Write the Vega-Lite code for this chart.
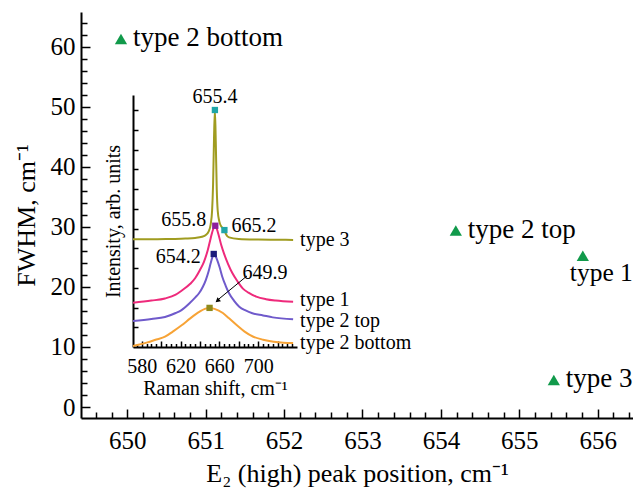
{
  "$schema": "https://vega.github.io/schema/vega-lite/v6.json",
  "width": 552,
  "height": 406,
  "autosize": "none",
  "padding": {"left": 81, "top": 12, "right": 0, "bottom": 72},
  "config": {
    "view": {"stroke": null},
    "font": "Liberation Serif",
    "text": {"font": "Liberation Serif"},
    "axis": {"grid": false, "domainColor": "black", "tickColor": "black", "labelColor": "black", "titleColor": "black", "labelFont": "Liberation Serif", "titleFont": "Liberation Serif", "titleFontWeight": "normal", "domainWidth": 2, "tickWidth": 1.5, "labelFlush": false, "labelOverlap": false}
  },
  "datasets": {
    "points": [
      {"pos": 649.92, "fwhm": 61.3, "label": "type 2 bottom"},
      {"pos": 654.19, "fwhm": 29.4, "label": "type 2 top"},
      {"pos": 655.81, "fwhm": 25.2, "label": "type 1"},
      {"pos": 655.44, "fwhm": 4.5, "label": "type 3"}
    ],
    "spectra": [
      {"s": "type 3", "x": 571, "i": 5.45}, {"s": "type 3", "x": 590, "i": 5.45}, {"s": "type 3", "x": 610, "i": 5.47}, {"s": "type 3", "x": 625, "i": 5.49}, {"s": "type 3", "x": 635, "i": 5.52}, {"s": "type 3", "x": 642, "i": 5.58}, {"s": "type 3", "x": 646, "i": 5.67}, {"s": "type 3", "x": 649, "i": 5.85}, {"s": "type 3", "x": 651, "i": 6.2}, {"s": "type 3", "x": 652.5, "i": 6.9}, {"s": "type 3", "x": 653.5, "i": 8.2}, {"s": "type 3", "x": 654.5, "i": 10.6}, {"s": "type 3", "x": 655.4, "i": 12.0}, {"s": "type 3", "x": 656.3, "i": 10.4}, {"s": "type 3", "x": 657.3, "i": 8.0}, {"s": "type 3", "x": 658.3, "i": 6.9}, {"s": "type 3", "x": 660, "i": 6.35}, {"s": "type 3", "x": 662, "i": 6.1}, {"s": "type 3", "x": 664, "i": 6.0}, {"s": "type 3", "x": 665.2, "i": 5.92}, {"s": "type 3", "x": 667, "i": 5.7}, {"s": "type 3", "x": 670, "i": 5.55}, {"s": "type 3", "x": 680, "i": 5.47}, {"s": "type 3", "x": 700, "i": 5.44}, {"s": "type 3", "x": 720, "i": 5.43}, {"s": "type 3", "x": 736, "i": 5.42},
      {"s": "type 1", "x": 571, "i": 2.24}, {"s": "type 1", "x": 590, "i": 2.35}, {"s": "type 1", "x": 604, "i": 2.46}, {"s": "type 1", "x": 615, "i": 2.65}, {"s": "type 1", "x": 621, "i": 2.85}, {"s": "type 1", "x": 630, "i": 3.2}, {"s": "type 1", "x": 635, "i": 3.48}, {"s": "type 1", "x": 640, "i": 3.9}, {"s": "type 1", "x": 644, "i": 4.3}, {"s": "type 1", "x": 648, "i": 4.9}, {"s": "type 1", "x": 651, "i": 5.5}, {"s": "type 1", "x": 653.5, "i": 5.95}, {"s": "type 1", "x": 655.8, "i": 6.14}, {"s": "type 1", "x": 658.5, "i": 5.8}, {"s": "type 1", "x": 662, "i": 5.15}, {"s": "type 1", "x": 665, "i": 4.7}, {"s": "type 1", "x": 669, "i": 4.2}, {"s": "type 1", "x": 673.5, "i": 3.73}, {"s": "type 1", "x": 679, "i": 3.3}, {"s": "type 1", "x": 684, "i": 2.97}, {"s": "type 1", "x": 690, "i": 2.75}, {"s": "type 1", "x": 698, "i": 2.55}, {"s": "type 1", "x": 708, "i": 2.42}, {"s": "type 1", "x": 718, "i": 2.35}, {"s": "type 1", "x": 736, "i": 2.29},
      {"s": "type 2 top", "x": 571, "i": 1.32}, {"s": "type 2 top", "x": 590, "i": 1.42}, {"s": "type 2 top", "x": 604, "i": 1.52}, {"s": "type 2 top", "x": 615, "i": 1.72}, {"s": "type 2 top", "x": 621, "i": 1.87}, {"s": "type 2 top", "x": 630, "i": 2.25}, {"s": "type 2 top", "x": 635, "i": 2.5}, {"s": "type 2 top", "x": 639, "i": 2.72}, {"s": "type 2 top", "x": 643, "i": 3.05}, {"s": "type 2 top", "x": 646, "i": 3.39}, {"s": "type 2 top", "x": 649, "i": 3.85}, {"s": "type 2 top", "x": 651, "i": 4.24}, {"s": "type 2 top", "x": 652.8, "i": 4.55}, {"s": "type 2 top", "x": 654.2, "i": 4.71}, {"s": "type 2 top", "x": 655.6, "i": 4.65}, {"s": "type 2 top", "x": 657.5, "i": 4.44}, {"s": "type 2 top", "x": 660.5, "i": 4.0}, {"s": "type 2 top", "x": 663, "i": 3.56}, {"s": "type 2 top", "x": 666.5, "i": 3.1}, {"s": "type 2 top", "x": 670, "i": 2.72}, {"s": "type 2 top", "x": 675, "i": 2.35}, {"s": "type 2 top", "x": 680.5, "i": 2.04}, {"s": "type 2 top", "x": 687, "i": 1.85}, {"s": "type 2 top", "x": 694, "i": 1.71}, {"s": "type 2 top", "x": 705, "i": 1.6}, {"s": "type 2 top", "x": 715, "i": 1.5}, {"s": "type 2 top", "x": 736, "i": 1.4},
      {"s": "type 2 bottom", "x": 571, "i": 0.05}, {"s": "type 2 bottom", "x": 585, "i": 0.22}, {"s": "type 2 bottom", "x": 595, "i": 0.38}, {"s": "type 2 bottom", "x": 604, "i": 0.52}, {"s": "type 2 bottom", "x": 612, "i": 0.78}, {"s": "type 2 bottom", "x": 621.5, "i": 1.11}, {"s": "type 2 bottom", "x": 630, "i": 1.45}, {"s": "type 2 bottom", "x": 639.7, "i": 1.79}, {"s": "type 2 bottom", "x": 645, "i": 1.93}, {"s": "type 2 bottom", "x": 649.9, "i": 1.98}, {"s": "type 2 bottom", "x": 655, "i": 1.93}, {"s": "type 2 bottom", "x": 663.6, "i": 1.72}, {"s": "type 2 bottom", "x": 670, "i": 1.45}, {"s": "type 2 bottom", "x": 677.8, "i": 1.11}, {"s": "type 2 bottom", "x": 686, "i": 0.78}, {"s": "type 2 bottom", "x": 695, "i": 0.52}, {"s": "type 2 bottom", "x": 705, "i": 0.37}, {"s": "type 2 bottom", "x": 716, "i": 0.27}, {"s": "type 2 bottom", "x": 726, "i": 0.22}, {"s": "type 2 bottom", "x": 736, "i": 0.2}
    ],
    "peaks": [
      {"label": "655.4", "x": 655.4, "i": 12.0},
      {"label": "665.2", "x": 665.2, "i": 5.92},
      {"label": "655.8", "x": 655.8, "i": 6.14},
      {"label": "654.2", "x": 654.2, "i": 4.71},
      {"label": "649.9", "x": 649.9, "i": 1.98}
    ],
    "arrow": [
      {"x": 688.5, "i": 3.6, "x2": 657.5, "i2": 2.35}
    ],
    "arrowhead": [
      {"x": 658.0, "i": 2.34}
    ]
  },
  "layer": [
    {
      "layer": [
        {
          "data": {"name": "points"},
          "mark": {"type": "point", "shape": "triangle-up", "filled": true, "size": 150, "color": "#119a4b", "opacity": 1},
          "encoding": {
            "x": {"field": "pos", "type": "quantitative", "scale": {"domain": [649.41, 656.45], "nice": false, "zero": false},
              "axis": {"orient": "bottom", "values": [650, 651, 652, 653, 654, 655, 656], "tickSize": -9, "labelPadding": 19, "labelFontSize": 25, "title": "E₂ (high) peak position, cm⁻¹", "titleFontSize": 26, "titlePadding": 7}},
            "y": {"field": "fwhm", "type": "quantitative", "scale": {"domain": [-1.83, 65.8], "nice": false, "zero": false},
              "axis": {"orient": "left", "values": [0, 10, 20, 30, 40, 50, 60], "tickSize": -9, "labelPadding": 15, "labelFontSize": 25, "title": "FWHM, cm⁻¹", "titleFontSize": 26, "titlePadding": 11}}
          }
        },
        {
          "data": {"name": "points"},
          "mark": {"type": "point", "opacity": 0},
          "encoding": {
            "x": {"field": "pos", "type": "quantitative", "axis": {"orient": "bottom", "values": [649.6, 649.8, 650.2, 650.4, 650.6, 650.8, 651.2, 651.4, 651.6, 651.8, 652.2, 652.4, 652.6, 652.8, 653.2, 653.4, 653.6, 653.8, 654.2, 654.4, 654.6, 654.8, 655.2, 655.4, 655.6, 655.8, 656.2, 656.4], "tickSize": -6, "labels": false, "domain": false, "title": null}},
            "y": {"field": "fwhm", "type": "quantitative", "axis": {"orient": "left", "values": [2, 4, 6, 8, 12, 14, 16, 18, 22, 24, 26, 28, 32, 34, 36, 38, 42, 44, 46, 48, 52, 54, 56, 58, 62, 64], "tickSize": -6, "labels": false, "domain": false, "title": null}}
          }
        },
        {
          "data": {"name": "points"},
          "transform": [{"filter": "datum.label != 'type 1'"}],
          "mark": {"type": "text", "font": "Liberation Serif", "align": "left", "baseline": "middle", "dx": 12, "dy": -1, "fontSize": 27, "color": "black"},
          "encoding": {
            "x": {"field": "pos", "type": "quantitative", "axis": null},
            "y": {"field": "fwhm", "type": "quantitative", "axis": null},
            "text": {"field": "label"}
          }
        },
        {
          "data": {"name": "points"},
          "transform": [{"filter": "datum.label == 'type 1'"}],
          "mark": {"type": "text", "font": "Liberation Serif", "align": "left", "baseline": "middle", "dx": -13, "dy": 17, "fontSize": 25.5, "color": "black"},
          "encoding": {
            "x": {"field": "pos", "type": "quantitative", "axis": null},
            "y": {"field": "fwhm", "type": "quantitative", "axis": null},
            "text": {"field": "label"}
          }
        }
      ],
      "resolve": {"axis": {"x": "independent", "y": "independent"}}
    },
    {
      "layer": [
        {
          "data": {"name": "spectra"},
          "mark": {"type": "line", "strokeWidth": 2, "interpolate": "monotone"},
          "encoding": {
            "x": {"field": "x", "type": "quantitative", "scale": {"domain": [571, 740], "range": [52, 216], "nice": false, "zero": false},
              "axis": {"orient": "bottom", "offset": -71, "values": [580, 600, 620, 640, 660, 680, 700, 720], "labelExpr": "datum.value % 40 == 20 ? datum.label : ''", "tickSize": -6, "labelPadding": 15, "labelFontSize": 20, "title": "Raman shift, cm⁻¹", "titleFontSize": 20, "titlePadding": 2}},
            "y": {"field": "i", "type": "quantitative", "scale": {"domain": [0, 12.76], "range": [335, 83], "nice": false, "zero": false},
              "axis": {"orient": "left", "offset": -52, "values": [1, 2, 3, 4, 5, 6, 7, 8, 9, 10, 11, 12], "tickSize": -5, "labels": false, "title": "Intensity, arb. units", "titleFontSize": 20, "titlePadding": 9}},
            "color": {"field": "s", "type": "nominal", "legend": null, "scale": {"domain": ["type 3", "type 1", "type 2 top", "type 2 bottom"], "range": ["#a09c20", "#ee2a7b", "#6f5acb", "#f7a336"]}},
            "detail": {"field": "s"}
          }
        },
        {
          "data": {"name": "spectra"},
          "transform": [{"filter": "datum.x == 571"}],
          "mark": {"type": "point", "opacity": 0},
          "encoding": {
            "x": {"field": "x", "type": "quantitative", "axis": {"orient": "bottom", "offset": -71, "values": [575, 585, 590, 595, 605, 610, 615, 625, 630, 635, 645, 650, 655, 665, 670, 675, 685, 690, 695, 705, 710, 715, 725, 730, 735], "tickSize": -3.5, "labels": false, "domain": false, "title": null}},
            "y": {"field": "i", "type": "quantitative", "axis": null}
          }
        },
        {
          "data": {"name": "spectra"},
          "transform": [{"filter": "datum.x == 736 && (datum.s == 'type 3' || datum.s == 'type 2 bottom')"}],
          "mark": {"type": "text", "font": "Liberation Serif", "align": "left", "baseline": "middle", "dx": 7, "fontSize": 20, "color": "black"},
          "encoding": {
            "x": {"field": "x", "type": "quantitative", "axis": null},
            "y": {"field": "i", "type": "quantitative", "axis": null},
            "text": {"field": "s"}
          }
        },
        {
          "data": {"name": "spectra"},
          "transform": [{"filter": "datum.x == 736 && datum.s == 'type 1'"}],
          "mark": {"type": "text", "font": "Liberation Serif", "align": "left", "baseline": "middle", "dx": 7, "dy": -1.5, "fontSize": 20, "color": "black"},
          "encoding": {
            "x": {"field": "x", "type": "quantitative", "axis": null},
            "y": {"field": "i", "type": "quantitative", "axis": null},
            "text": {"field": "s"}
          }
        },
        {
          "data": {"name": "spectra"},
          "transform": [{"filter": "datum.x == 736 && datum.s == 'type 2 top'"}],
          "mark": {"type": "text", "font": "Liberation Serif", "align": "left", "baseline": "middle", "dx": 7, "dy": 1.5, "fontSize": 20, "color": "black"},
          "encoding": {
            "x": {"field": "x", "type": "quantitative", "axis": null},
            "y": {"field": "i", "type": "quantitative", "axis": null},
            "text": {"field": "s"}
          }
        },
        {
          "data": {"name": "arrow"},
          "mark": {"type": "rule", "color": "black", "strokeWidth": 1},
          "encoding": {
            "x": {"field": "x", "type": "quantitative", "axis": null},
            "y": {"field": "i", "type": "quantitative", "axis": null},
            "x2": {"field": "x2"},
            "y2": {"field": "i2"}
          }
        },
        {
          "data": {"name": "arrowhead"},
          "mark": {"type": "point", "shape": "triangle-up", "filled": true, "size": 30, "angle": 230, "color": "black", "opacity": 1},
          "encoding": {
            "x": {"field": "x", "type": "quantitative", "axis": null},
            "y": {"field": "i", "type": "quantitative", "axis": null}
          }
        },
        {
          "data": {"name": "peaks"},
          "mark": {"type": "square", "size": 40, "filled": true, "opacity": 1},
          "encoding": {
            "x": {"field": "x", "type": "quantitative", "axis": null},
            "y": {"field": "i", "type": "quantitative", "axis": null},
            "fill": {"field": "label", "type": "nominal", "legend": null, "scale": {"domain": ["655.4", "665.2", "655.8", "654.2", "649.9"], "range": ["#1fa6a8", "#1fa6a8", "#8c1f9c", "#1c1b7c", "#8e8a1c"]}}
          }
        },
        {
          "data": {"name": "peaks"},
          "transform": [{"filter": "datum.label == '655.4'"}],
          "mark": {"type": "text", "font": "Liberation Serif", "align": "center", "baseline": "middle", "dy": -13, "fontSize": 20, "color": "black"},
          "encoding": {"x": {"field": "x", "type": "quantitative", "axis": null}, "y": {"field": "i", "type": "quantitative", "axis": null}, "text": {"field": "label"}}
        },
        {
          "data": {"name": "peaks"},
          "transform": [{"filter": "datum.label == '665.2'"}],
          "mark": {"type": "text", "font": "Liberation Serif", "align": "left", "baseline": "middle", "dx": 7, "dy": -4, "fontSize": 20, "color": "black"},
          "encoding": {"x": {"field": "x", "type": "quantitative", "axis": null}, "y": {"field": "i", "type": "quantitative", "axis": null}, "text": {"field": "label"}}
        },
        {
          "data": {"name": "peaks"},
          "transform": [{"filter": "datum.label == '655.8'"}],
          "mark": {"type": "text", "font": "Liberation Serif", "align": "right", "baseline": "middle", "dx": -9, "dy": -6, "fontSize": 20, "color": "black"},
          "encoding": {"x": {"field": "x", "type": "quantitative", "axis": null}, "y": {"field": "i", "type": "quantitative", "axis": null}, "text": {"field": "label"}}
        },
        {
          "data": {"name": "peaks"},
          "transform": [{"filter": "datum.label == '654.2'"}],
          "mark": {"type": "text", "font": "Liberation Serif", "align": "right", "baseline": "middle", "dx": -13, "dy": 3, "fontSize": 20, "color": "black"},
          "encoding": {"x": {"field": "x", "type": "quantitative", "axis": null}, "y": {"field": "i", "type": "quantitative", "axis": null}, "text": {"field": "label"}}
        },
        {
          "data": {"name": "peaks"},
          "transform": [{"filter": "datum.label == '649.9'"}],
          "mark": {"type": "text", "font": "Liberation Serif", "align": "left", "baseline": "middle", "dx": 33, "dy": -35, "fontSize": 20, "color": "black"},
          "encoding": {"x": {"field": "x", "type": "quantitative", "axis": null}, "y": {"field": "i", "type": "quantitative", "axis": null}, "text": {"field": "label"}}
        }
      ],
      "resolve": {"axis": {"x": "independent", "y": "independent"}}
    }
  ],
  "resolve": {"scale": {"x": "independent", "y": "independent"}}
}
